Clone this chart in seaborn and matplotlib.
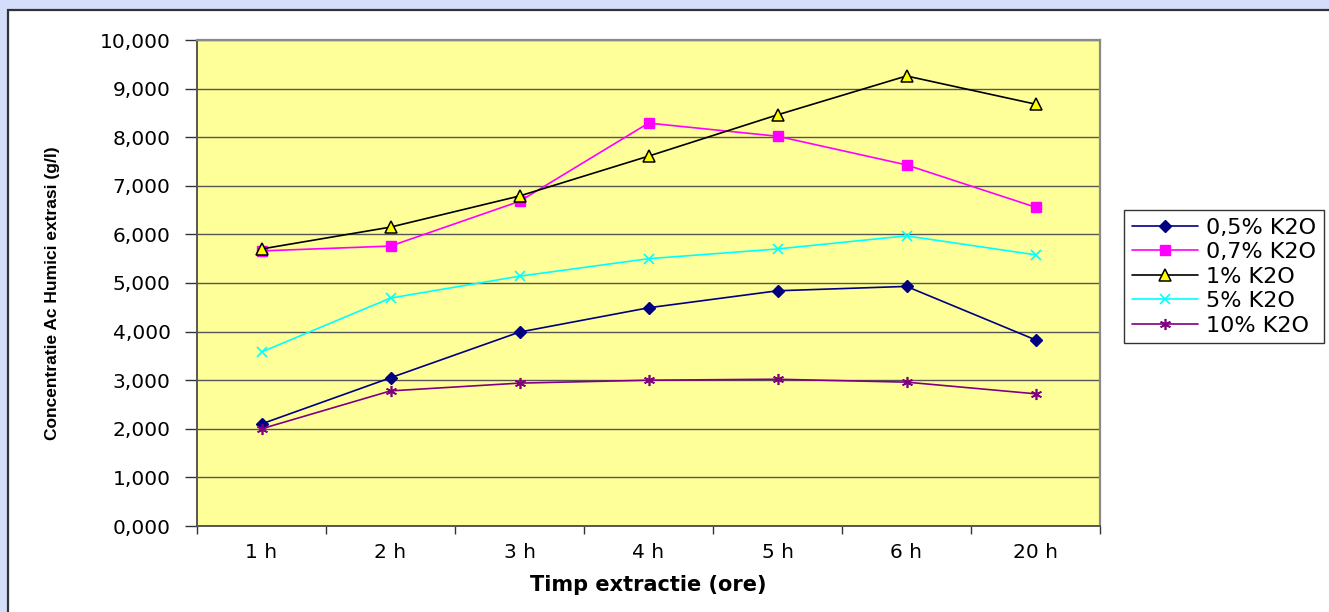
import numpy as np
import pandas as pd
import matplotlib
matplotlib.use("Agg")
import matplotlib.pyplot as plt
import matplotlib.patches as mpatches
from matplotlib.ticker import FixedLocator, FuncFormatter
import seaborn as sns

# ---- data ----
times = ["1 h", "2 h", "3 h", "4 h", "5 h", "6 h", "20 h"]
series_names = ["0,5% K2O", "0,7% K2O", "1% K2O", "5% K2O", "10% K2O"]
k2o_05 = [2.10, 3.05, 3.99, 4.49, 4.84, 4.93, 3.83]
k2o_07 = [5.66, 5.76, 6.68, 8.29, 8.02, 7.43, 6.56]
k2o_1 = [5.70, 6.15, 6.79, 7.61, 8.46, 9.26, 8.68]
k2o_5 = [3.58, 4.69, 5.14, 5.50, 5.70, 5.97, 5.58]
k2o_10 = [2.00, 2.78, 2.94, 3.00, 3.02, 2.96, 2.72]
y_ticks = [0, 1, 2, 3, 4, 5, 6, 7, 8, 9, 10]
x_label = "Timp extractie (ore)"
y_label = "Concentratie Ac Humici extrasi (g/l)"

values = [k2o_05, k2o_07, k2o_1, k2o_5, k2o_10]
pos = np.arange(len(times))
df = pd.concat(
    [pd.DataFrame({"pos": pos, "val": v, "serie": n}) for n, v in zip(series_names, values)],
    ignore_index=True,
)

sns.set_style("white")
plt.rcParams["font.family"] = ["DejaVu Sans"]
plt.rcParams["text.color"] = "black"
plt.rcParams["axes.labelcolor"] = "black"
plt.rcParams["xtick.color"] = "black"
plt.rcParams["ytick.color"] = "black"

fig = plt.figure(figsize=(13.29, 6.12), dpi=100)
fig.patch.set_facecolor("#D4DEFA")
bg = mpatches.Rectangle((8 / 1329, -0.2), 1.2, (612 - 10) / 612 + 0.2,
                        transform=fig.transFigure, facecolor="white",
                        edgecolor="#333333", linewidth=1.6, zorder=-5)
fig.add_artist(bg)

ax = fig.add_axes([197 / 1329, (612 - 526) / 612, (1100 - 197) / 1329, (526 - 40) / 612])
ax.set_zorder(1)
ax.set_facecolor("#FFFF99")

styles = {
    "0,5% K2O": dict(color="#000080", marker="D", ms=6, mfc="#000080", mec="#000080"),
    "0,7% K2O": dict(color="#FF00FF", marker="s", ms=6.5, mfc="#FF00FF", mec="#FF00FF"),
    "1% K2O": dict(color="#000000", marker="^", ms=8, mfc="#FFFF00", mec="#000000", mew=1.1),
    "5% K2O": dict(color="#00FFFF", marker="x", ms=7, mec="#00FFFF", mew=1.2),
    "10% K2O": dict(color="#800080", marker=(6, 2, 0), ms=8, mec="#800080", mew=1.2),
}

for name in series_names:
    st = styles[name]
    sub = df[df["serie"] == name]
    sns.lineplot(data=sub, x="pos", y="val", ax=ax, color=st["color"], linewidth=1.2,
                 marker=st["marker"], markersize=st["ms"],
                 markerfacecolor=st.get("mfc", st["color"]),
                 markeredgecolor=st["mec"], markeredgewidth=st.get("mew", 1.0),
                 label=name, sort=False, zorder=3)

ax.set_xlim(-0.5, len(times) - 0.5)
ax.set_ylim(0, 10)
ax.yaxis.set_major_locator(FixedLocator(y_ticks))
ax.yaxis.set_major_formatter(FuncFormatter(lambda v, p: f"{v:.3f}".replace(".", ",")))
ax.grid(axis="y", color="#555555", linewidth=1.0)
ax.set_axisbelow(True)

ax.set_xticks(pos)
ax.set_xticklabels(times)
ax.set_xticks(np.arange(-0.5, len(times), 1.0), minor=True)
ax.tick_params(axis="x", which="major", length=0, pad=12, labelsize=14.5, labelcolor="black")
ax.tick_params(axis="x", which="minor", length=6, width=1.0, color="#333333",
               direction="out", bottom=True)
ax.tick_params(axis="y", which="major", length=9, width=1.0, color="#333333", direction="out",
               pad=10, labelsize=14.5, left=True, labelcolor="black")

for s in ["top", "right"]:
    ax.spines[s].set_color("#8a8a8a")
    ax.spines[s].set_linewidth(1.6)
ax.spines["left"].set_color("#555555")
ax.spines["left"].set_linewidth(1.4)
ax.spines["bottom"].set_color("#555555")
ax.spines["bottom"].set_linewidth(1.4)

ax.set_xlabel(x_label, fontsize=15, fontweight="bold", color="black")
ax.xaxis.set_label_coords(0.5, -0.1)
ax.set_ylabel(y_label, fontsize=12.5, fontweight="bold", color="black",
              family=["Liberation Sans Narrow", "Liberation Sans", "DejaVu Sans"])
ax.yaxis.set_label_coords(-0.152, 0.48)

leg = ax.legend(loc="upper left", bbox_to_anchor=(1124 / 1329, (612 - 210) / 612),
                bbox_transform=fig.transFigure, borderaxespad=0, frameon=True,
                fancybox=False, edgecolor="black", fontsize=16, handlelength=3.0,
                labelspacing=0.2, handletextpad=0.35, borderpad=0.35)
leg.get_frame().set_linewidth(1.0)
for t in leg.get_texts():
    t.set_color("black")

fig.savefig("out.png", dpi=100, facecolor=fig.get_facecolor())
